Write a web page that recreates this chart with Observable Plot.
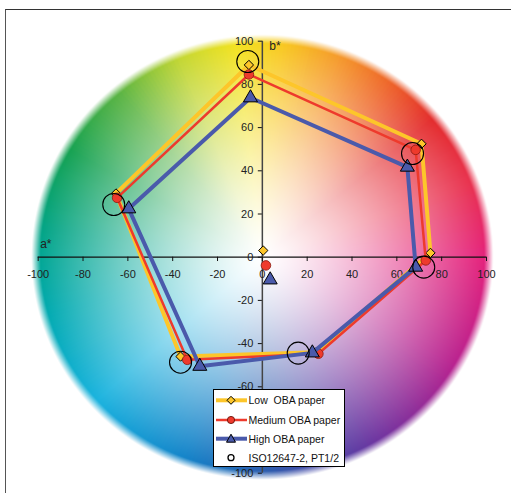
<!DOCTYPE html>
<html>
<head>
<meta charset="utf-8">
<script src="https://cdn.jsdelivr.net/npm/d3@7"></script>
<script src="https://cdn.jsdelivr.net/npm/@observablehq/plot@0.6"></script>
<style>
  html, body { margin: 0; padding: 0; background: #fff; overflow: hidden; }
  #wrap { position: relative; width: 511px; height: 493px; overflow: hidden; font-family: "Liberation Sans", Arial, sans-serif; }
  #frame { position: absolute; left: 5px; top: 9px; width: 600px; height: 600px; border-top: 1px solid #333; border-left: 1.5px solid #555; }
  #chart { position: absolute; left: 0; top: 0; }
  #legend { position: absolute; left: 213px; top: 389px; width: 130px; height: 76px; background: #fff; border: 1px solid #000; }
</style>
</head>
<body>
<div id="wrap">
  <div id="frame"></div>
  <div id="chart"></div>
  <div id="legend"></div>
</div>
<script>
// Vertices of the gamut hexagon: Yellow, Red, Magenta, Blue, Cyan, Green
const vertices = ["Y", "R", "M", "B", "C", "G"];

const lowA  = [-6.0, 71.0, 75.0, 24.0, -36.5, -65.3];
const lowB  = [89.0, 52.5,  2.0, -44.0, -46.0, 29.5];
const medA  = [-6.0, 68.4, 72.9, 25.0, -33.5, -64.8];
const medB  = [84.6, 49.7, -1.5, -44.7, -47.5, 27.5];
const highA = [-5.3, 64.7, 68.4, 22.3, -27.9, -59.6];
const highB = [73.8, 41.7, -4.6, -44.3, -50.5, 22.4];
const isoA  = [-6.5, 67.0, 72.0, 16.0, -36.5, -66.3];
const isoB  = [90.6, 48.0, -4.6, -44.4, -48.6, 24.4];

// paper white points
const paperLow  = [0.4, 3.1];
const paperMed  = [1.6, -3.8];
const paperHigh = [3.5, -10.5];

const xTicks = [-100, -80, -60, -40, -20, 0, 20, 40, 60, 80, 100];
const yTicks = [-100, -80, -60, -40, -20, 0, 20, 40, 60, 80, 100];

const seriesNames = ["Low  OBA paper", "Medium OBA paper", "High OBA paper", "ISO12647-2, PT1/2"];

function poly(A, B) {
  const pts = vertices.map((v, i) => ({v, a: A[i], b: B[i]}));
  return pts.concat([pts[0]]);
}
const lowPts = poly(lowA, lowB), medPts = poly(medA, medB), highPts = poly(highA, highB);
const isoPts = vertices.map((v, i) => ({v, a: isoA[i], b: isoB[i]}));

// hue wheel (background decoration)
const hueStops = [[0,"#e4207a"],[20,"#e8304e"],[40,"#e32b2b"],[55,"#ee6428"],[70,"#f59a2a"],[85,"#f8c81e"],[97,"#f2e21e"],[112,"#c2d632"],[130,"#5ab442"],[150,"#14a150"],[172,"#00a383"],[195,"#00aab0"],[222,"#18b2de"],[250,"#1282c8"],[272,"#2a58ac"],[300,"#6a34a0"],[330,"#b8208e"],[360,"#e4207a"]];
const lut = [];
for (let d = 0; d <= 360; d++) {
  let k = 0;
  while (k < hueStops.length - 2 && hueStops[k + 1][0] < d) k++;
  const [d0, c0] = hueStops[k], [d1, c1] = hueStops[k + 1];
  lut.push(d3.rgb(d3.interpolateRgb(c0, c1)((d - d0) / (d1 - d0))));
}
function wheel(x, y) {
  const r = Math.hypot(x, y);
  if (r > 103) return "rgb(255,255,255)";
  let ang = Math.atan2(y, x) * 180 / Math.PI; if (ang < 0) ang += 360;
  const c = lut[Math.round(ang)];
  let t = Math.pow(Math.min(r, 100) / 100, 1.3);
  if (r > 99) t *= Math.max(0, (103 - r) / 4);
  const m = v => Math.round(255 * (1 - t) + v * t);
  return `rgb(${m(c.r)},${m(c.g)},${m(c.b)})`;
}

const YEL = "#fdc62a", RED = "#ee3a2c", BLU = "#4a5aab";

const chart = Plot.plot({
  width: 511, height: 493,
  marginLeft: 37.7, marginRight: 25, marginTop: 40.7, marginBottom: 20.3,
  x: {domain: [-100, 100], axis: null},
  y: {domain: [-100, 100], axis: null},
  color: {type: "identity"},
  style: {background: "transparent", fontFamily: "Liberation Sans, Arial, sans-serif", fontSize: "11px", color: "#222"},
  marks: [
    Plot.raster({x1: -104, x2: 104, y1: -104, y2: 104, fill: wheel, pixelSize: 1}),
    // axes
    Plot.ruleY([0], {x1: -100, x2: 100, stroke: "#111", strokeWidth: 1.2}),
    Plot.ruleX([0], {y1: -100, y2: 100, stroke: "#444", strokeWidth: 1.5}),
    Plot.ruleX(xTicks, {x: d => d, y1: 0, y2: -2, stroke: "#111"}),
    Plot.ruleY(yTicks, {y: d => d, x1: -1.8, x2: 0, stroke: "#111"}),
    Plot.text(xTicks, {x: d => d, y: 0, dy: 17, text: d => String(d), fill: "#222"}),
    Plot.text(yTicks, {x: 0, y: d => d, dx: -9, textAnchor: "end", text: d => String(d), fill: "#222"}),
    Plot.text(["a*"], {x: -100, y: 0, dx: 2, dy: -13, textAnchor: "start", text: d => d, fontSize: 12, fill: "#222"}),
    Plot.text(["b*"], {x: 0, y: 100, dx: 7, dy: 5, textAnchor: "start", text: d => d, fontSize: 12, fill: "#222"}),
    // Low OBA
    Plot.line(lowPts, {x: "a", y: "b", stroke: YEL, strokeWidth: 4, strokeLinejoin: "miter"}),
    Plot.dot(lowPts.slice(0, 6), {x: "a", y: "b", symbol: "diamond2", r: 4.2, fill: YEL, stroke: "#000", strokeWidth: 1}),
    Plot.dot([paperLow], {x: d => d[0], y: d => d[1], symbol: "diamond2", r: 4.2, fill: YEL, stroke: "#000", strokeWidth: 1}),
    // Medium OBA
    Plot.line(medPts, {x: "a", y: "b", stroke: RED, strokeWidth: 2.5, strokeLinejoin: "miter"}),
    Plot.dot(medPts.slice(0, 6), {x: "a", y: "b", symbol: "circle", r: 4.8, fill: RED, stroke: "#8a1a10", strokeWidth: 0.8}),
    Plot.dot([paperMed], {x: d => d[0], y: d => d[1], symbol: "circle", r: 4.8, fill: RED, stroke: "#8a1a10", strokeWidth: 0.8}),
    // High OBA
    Plot.line(highPts, {x: "a", y: "b", stroke: BLU, strokeWidth: 4, strokeLinejoin: "miter"}),
    Plot.dot(highPts.slice(0, 6), {x: "a", y: "b", symbol: "triangle", r: 5.2, fill: BLU, stroke: "#000", strokeWidth: 1}),
    Plot.dot([paperHigh], {x: d => d[0], y: d => d[1], symbol: "triangle", r: 5.2, fill: BLU, stroke: "#000", strokeWidth: 1}),
    // ISO
    Plot.dot(isoPts, {x: "a", y: "b", r: 11, fill: "none", stroke: "#000", strokeWidth: 1.1})
  ]
});
document.getElementById("chart").appendChild(chart);

// legend
const rows = [
  {name: seriesNames[0], color: YEL, w: 4, sym: "diamond"},
  {name: seriesNames[1], color: RED, w: 2.5, sym: "circle"},
  {name: seriesNames[2], color: BLU, w: 4, sym: "triangle"},
  {name: seriesNames[3], color: null, w: 0, sym: "iso"}
];
const rowY = [10.3, 30, 48.7, 67.7];
let svg = `<svg width="130" height="76" xmlns="http://www.w3.org/2000/svg" style="position:absolute;left:0;top:0">`;
rows.forEach((r, i) => {
  const y = rowY[i], cx = 17;
  if (r.color) svg += `<line x1="2" x2="33" y1="${y}" y2="${y}" stroke="${r.color}" stroke-width="${r.w}"/>`;
  if (r.sym === "diamond") svg += `<path d="M${cx},${y-4}L${cx+4},${y}L${cx},${y+4}L${cx-4},${y}Z" fill="${YEL}" stroke="#000" stroke-width="1"/>`;
  if (r.sym === "circle") svg += `<circle cx="${cx}" cy="${y}" r="3.6" fill="${RED}" stroke="#6a1208" stroke-width="0.9"/>`;
  if (r.sym === "triangle") svg += `<path d="M${cx},${y-4.5}L${cx+4.5},${y+3.5}L${cx-4.5},${y+3.5}Z" fill="${BLU}" stroke="#000" stroke-width="1"/>`;
  if (r.sym === "iso") svg += `<circle cx="${cx}" cy="${y}" r="3" fill="#fff" stroke="#000" stroke-width="1.3"/>`;
  svg += `<text x="34.5" y="${y + 4}" font-size="10.5" fill="#111" style="white-space:pre" xml:space="preserve">${r.name}</text>`;
});
svg += `</svg>`;
document.getElementById("legend").innerHTML = svg;
</script>
</body>
</html>
